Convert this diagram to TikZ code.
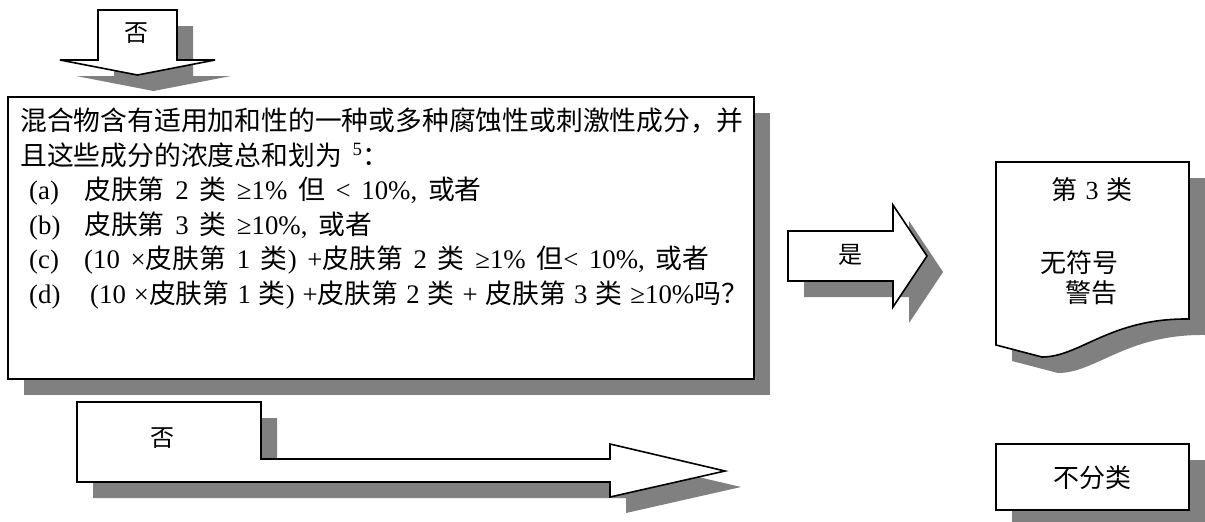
\documentclass[tikz,border=0pt]{standalone}
\usepackage{fontspec}
\setmainfont{Liberation Serif}
\newfontfamily\cjkf{Noto Sans CJK SC}
\newcommand{\cj}[1]{{\cjkf #1}}
\newcommand{\bodyfont}{\fontsize{26.8}{31}\selectfont\spaceskip=0.4em\relax}
\newcommand{\docfont}{\fontsize{26}{30}\selectfont\spaceskip=0.3em\relax}
\newcommand{\arrowfont}{\fontsize{24}{28}\selectfont\cjkf}
\tikzset{
  shadowfill/.style={fill=black!50, draw=none},
  shapefill/.style={fill=white, draw=black, line width=1.6pt, line join=miter},
  boxfill/.style={fill=white, draw=black, line width=2pt, line join=miter},
  bodytext/.style={font=\bodyfont, inner sep=0pt, anchor=base west},
  arrowtext/.style={font=\arrowfont, inner sep=0pt},
  doctext/.style={font=\docfont, inner sep=0pt},
}
\newcommand{\toparrowpath}[1]{\path[#1] (98,10) -- (177,10) -- (177,60) -- (215,60) -- (137.5,75) -- (60,60) -- (98,60) -- cycle;}
\newcommand{\mainboxpath}[1]{\path[#1] (8,97) rectangle (754,379);}
\newcommand{\yesarrowpath}[1]{\path[#1] (788,231) -- (893,231) -- (893,205) -- (927,256) -- (893,307) -- (893,281) -- (788,281) -- cycle;}
\newcommand{\docpath}[1]{\path[#1] (996,162) -- (1189,162) -- (1189,319) .. controls (1110,318) and (1080,357) .. (1042,357) -- (996,345) -- cycle;}
\newcommand{\noarrowpath}[1]{\path[#1] (77,402) -- (261,402) -- (261,459) -- (610,459) -- (610,444) -- (725,471) -- (610,497) -- (610,482) -- (77,482) -- cycle;}
\newcommand{\nocatpath}[1]{\path[#1] (996,444) rectangle (1189,510);}
\begin{document}
\begin{tikzpicture}[x=1pt,y=-1pt]
\useasboundingbox (0,0) rectangle (1205,522);
% top arrow
\begin{scope}[shift={(16,16)}]\toparrowpath{shadowfill}\end{scope}
\toparrowpath{shapefill}
\node[arrowtext] (topno) at (136,33) {否};
% main box
\begin{scope}[shift={(16,16)}]\mainboxpath{shadowfill}\end{scope}
\mainboxpath{boxfill}
\node[bodytext] (l1) at (20,130) {\cj{混合物含有适用加和性的一种或多种腐蚀性或刺激性成分，并}};
\node[bodytext] (l2) at (20,165) {\cj{且这些成分的浓度总和划为} \textsuperscript{5}\cj{：}};
\node[bodytext] (la) at (29,199) {(a)};
\node[bodytext] (ta) at (84,199) {\cj{皮肤第} 2 \cj{类} ≥1\% \cj{但} < 10\%, \cj{或者}};
\node[bodytext] (lb) at (29,234) {(b)};
\node[bodytext] (tb) at (84,234) {\cj{皮肤第} 3 \cj{类} ≥10\%, \cj{或者}};
\node[bodytext] (lc) at (29,268) {(c)};
\node[bodytext] (tc) at (84,268) {(10 ×\cj{皮肤第} 1 \cj{类}) +\cj{皮肤第} 2 \cj{类} ≥1\% \cj{但}< 10\%, \cj{或者}};
\node[bodytext] (ld) at (29,303) {(d)};
\node[bodytext] (td) at (90,303) {\spaceskip=0.3em\relax(10 ×\cj{皮肤第} 1 \cj{类}) +\cj{皮肤第} 2 \cj{类} + \cj{皮肤第} 3 \cj{类} ≥10\%\cj{吗？}};
% yes arrow
\begin{scope}[shift={(16,16)}]\yesarrowpath{shadowfill}\end{scope}
\yesarrowpath{shapefill}
\node[arrowtext] (yes) at (850,255) {是};
% document
\begin{scope}[shift={(16,16)}]\docpath{shadowfill}\end{scope}
\docpath{shapefill}
\node[doctext] (cat3) at (1092,190) {\cj{第} 3 \cj{类}};
\node[doctext, anchor=west] (nosym) at (1040,263) {\cj{无符号}};
\node[doctext, anchor=west] (warn) at (1065,293) {\cj{警告}};
% bottom arrow
\begin{scope}[shift={(16,16)}]\noarrowpath{shadowfill}\end{scope}
\noarrowpath{shapefill}
\node[arrowtext] (botno) at (162,438) {否};
% not classified
\begin{scope}[shift={(16,16)}]\nocatpath{shadowfill}\end{scope}
\nocatpath{boxfill}
\node[doctext] (nocat) at (1092,478) {\cj{不分类}};
\end{tikzpicture}
\end{document}
